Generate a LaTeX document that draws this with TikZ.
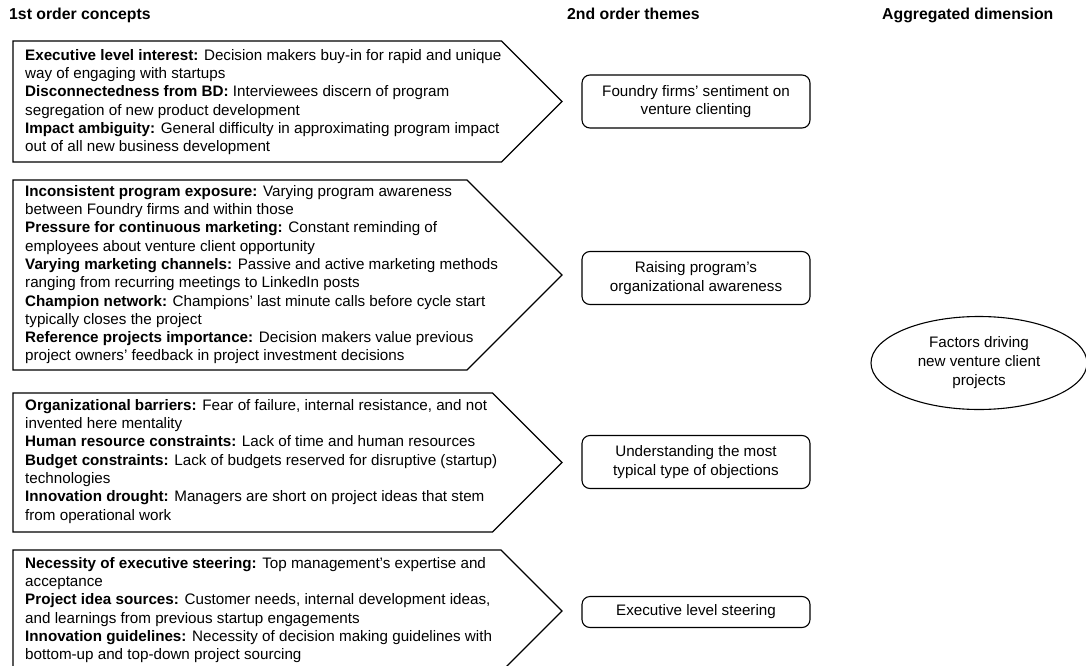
\documentclass[tikz,border=0pt]{standalone}
\usepackage{fontspec}
\setmainfont{Liberation Sans}
\usetikzlibrary{shapes.geometric}
\tikzset{
  concept/.style={anchor=north west, align=left, inner sep=0pt, font=\fontsize{15.2}{18.3}\selectfont},
  shape line/.style={draw=black, line width=1.1pt, line join=miter},
  theme/.style={draw=black, line width=1.1pt, rounded corners=8pt, minimum width=228pt, align=center, inner sep=0pt, font=\fontsize{15.2}{18.5}\selectfont},
  dimension/.style={draw=black, line width=1.1pt, ellipse, minimum width=216pt, minimum height=93pt, inner sep=0pt, align=center, font=\fontsize{15.2}{19}\selectfont},
  header/.style={anchor=base west, inner sep=0pt, font=\bfseries\fontsize{15.8}{18}\selectfont}
}
\begin{document}
\begin{tikzpicture}[x=1pt,y=-1pt]
\useasboundingbox (0,0) rectangle (1086,666);
% headers
\node[header] (h1) at (9,20) {1st order concepts};
\node[header] (h2) at (567,20) {2nd order themes};
\node[header] (h3) at (882,20) {Aggregated dimension};
% concept arrow shapes
\draw[shape line] (13,41) -- (501.5,41) -- (562,101.5) -- (501.5,162) -- (13,162) -- cycle;
\draw[shape line] (13,180) -- (467,180) -- (562,275) -- (467,370) -- (13,370) -- cycle;
\draw[shape line] (13,393) -- (492.5,393) -- (562,462.5) -- (492.5,532) -- (13,532) -- cycle;
\draw[shape line] (13,550) -- (501,550) -- (562,611) -- (501,672) -- (13,672) -- cycle;
% concept texts
\node[concept] (c1) at (25,49) {\textbf{Executive level interest:} Decision makers buy-in for rapid and unique\\
way of engaging with startups\\
\textbf{Disconnectedness from BD:} Interviewees discern of program\\
segregation of new product development\\
\textbf{Impact ambiguity:} General difficulty in approximating program impact\\
out of all new business development};
\node[concept] (c2) at (25,185) {\textbf{Inconsistent program exposure:} Varying program awareness\\
between Foundry firms and within those\\
\textbf{Pressure for continuous marketing:} Constant reminding of\\
employees about venture client opportunity\\
\textbf{Varying marketing channels:} Passive and active marketing methods\\
ranging from recurring meetings to LinkedIn posts\\
\textbf{Champion network:} Champions' last minute calls before cycle start\\
typically closes the project\\
\textbf{Reference projects importance:} Decision makers value previous\\
project owners' feedback in project investment decisions};
\node[concept] (c3) at (25,399) {\textbf{Organizational barriers:} Fear of failure, internal resistance, and not\\
invented here mentality\\
\textbf{Human resource constraints:} Lack of time and human resources\\
\textbf{Budget constraints:} Lack of budgets reserved for disruptive (startup)\\
technologies\\
\textbf{Innovation drought:} Managers are short on project ideas that stem\\
from operational work};
\node[concept] (c4) at (25,557) {\textbf{Necessity of executive steering:} Top management's expertise and\\
acceptance\\
\textbf{Project idea sources:} Customer needs, internal development ideas,\\
and learnings from previous startup engagements\\
\textbf{Innovation guidelines:} Necessity of decision making guidelines with\\
bottom-up and top-down project sourcing};
% themes
\node[theme, minimum height=53pt] (t1) at (696,101.5) {Foundry firms' sentiment on\\venture clienting};
\node[theme, minimum height=53pt] (t2) at (696,278) {Raising program's\\organizational awareness};
\node[theme, minimum height=53pt] (t3) at (696,462) {Understanding the most\\typical type of objections};
\node[theme, minimum height=31pt] (t4) at (696,612) {Executive level steering};
% aggregated dimension
\node[dimension] (d1) at (979,363) {Factors driving\\new venture client\\projects};
\end{tikzpicture}
\end{document}
